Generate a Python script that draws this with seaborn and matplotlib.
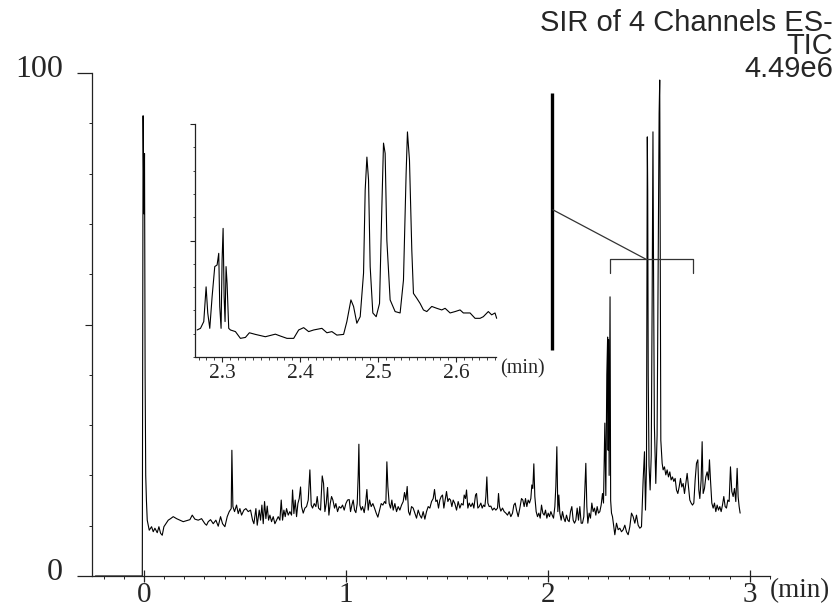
import matplotlib
matplotlib.use("Agg")
import matplotlib.pyplot as plt
import seaborn as sns
import pandas as pd
from matplotlib.ticker import MultipleLocator, FixedLocator, NullFormatter
from matplotlib.transforms import ScaledTranslation

# ---------------- data (time in min, intensity in %) ----------------
trace_injection = [(-0.240, 0), (-0.008, 0), (-0.004, 91.5), (0.000, 72), (0.003, 84),
                   (0.006, 40), (0.009, 20), (0.0125, 15)]

trace_early = [
    (0.0165, 11.1), (0.0264, 9.1), (0.0380, 9.8), (0.0462, 8.8), (0.0545, 9.5), (0.0660, 8.6),
    (0.0743, 9.8), (0.0825, 8.5), (0.0908, 8.1), (0.0990, 9.8), (0.1089, 10.4), (0.1205, 11.1),
    (0.1320, 11.4), (0.1452, 11.8), (0.1617, 11.4), (0.1782, 11.1), (0.1947, 10.8), (0.2112, 11.0),
    (0.2277, 11.2), (0.2393, 12.1), (0.2525, 11.3), (0.2690, 11.1), (0.2855, 11.4), (0.3020, 10.4),
    (0.3102, 10.1), (0.3185, 10.8), (0.3300, 11.2), (0.3432, 10.4), (0.3564, 11.1), (0.3680, 9.9),
    (0.3795, 11.8), (0.3894, 10.4), (0.4010, 9.8), (0.4125, 11.8), (0.4224, 12.8), (0.4323, 13.4),
    (0.4356, 25.0), (0.4406, 13.8), (0.4488, 12.8), (0.4587, 14.1), (0.4670, 12.4), (0.4752, 13.4),
    (0.4835, 12.1), (0.4950, 13.1), (0.5050, 13.4), (0.5165, 12.8), (0.5280, 13.1), (0.5380, 11.1),
    (0.5446, 10.4), (0.5545, 13.4), (0.5611, 10.1), (0.5710, 13.1), (0.5776, 11.1), (0.5842, 14.1),
    (0.5908, 10.4), (0.5974, 14.8), (0.6040, 11.4), (0.6106, 13.9), (0.6172, 11.1), (0.6238, 12.1),
    (0.6320, 10.8), (0.6403, 11.8), (0.6485, 10.4), (0.6568, 11.1), (0.6650, 11.8), (0.6733, 11.1),
    (0.6799, 15.1), (0.6865, 11.1), (0.6931, 13.1), (0.6997, 11.8), (0.7063, 13.4), (0.7145, 12.1),
    (0.7228, 12.8), (0.7310, 12.1), (0.7360, 17.1), (0.7426, 12.4), (0.7492, 15.1), (0.7558, 11.8),
    (0.7624, 14.4), (0.7690, 15.4), (0.7756, 17.7)]

trace_mid = [
    (0.7806, 13.8), (0.7888, 12.5), (0.7971, 13.5), (0.8053, 13.8), (0.8136, 15.1), (0.8218, 21.1),
    (0.8284, 14.1), (0.8350, 13.5), (0.8433, 14.4), (0.8515, 13.8), (0.8581, 15.8), (0.8647, 13.5),
    (0.8746, 13.1), (0.8829, 19.9), (0.8895, 18.4), (0.8961, 12.8), (0.9027, 14.4), (0.9093, 17.6),
    (0.9159, 12.1), (0.9225, 14.4), (0.9291, 15.8), (0.9357, 15.1), (0.9439, 13.5), (0.9505, 14.4),
    (0.9588, 12.8), (0.9670, 13.8), (0.9753, 13.5), (0.9835, 14.1), (0.9918, 13.1), (1.0000, 14.4),
    (1.0083, 15.1), (1.0165, 15.2), (1.0231, 12.8), (1.0297, 14.1), (1.0363, 15.1), (1.0429, 13.1),
    (1.0495, 12.6), (1.0561, 14.4), (1.0611, 20.1), (1.0644, 26.2), (1.0693, 14.1), (1.0759, 13.1),
    (1.0825, 13.8), (1.0908, 12.6), (1.0974, 14.4), (1.1040, 17.2), (1.1106, 13.1), (1.1172, 15.1),
    (1.1254, 13.8), (1.1337, 14.4), (1.1419, 13.5), (1.1502, 12.5), (1.1584, 11.7), (1.1667, 13.1),
    (1.1749, 14.4), (1.1832, 14.1), (1.1914, 14.8), (1.1980, 14.4), (1.2030, 22.7), (1.2079, 17.8),
    (1.2145, 14.4), (1.2211, 13.5), (1.2277, 15.1), (1.2343, 13.1), (1.2426, 14.4), (1.2508, 12.8),
    (1.2591, 13.8), (1.2673, 13.1), (1.2756, 14.1), (1.2838, 14.8), (1.2904, 16.6), (1.2970, 15.1),
    (1.3036, 17.8), (1.3102, 12.8), (1.3168, 12.1), (1.3251, 13.8), (1.3333, 13.5), (1.3416, 12.5),
    (1.3498, 11.5), (1.3581, 13.1), (1.3663, 12.1), (1.3746, 11.5), (1.3828, 12.8), (1.3911, 11.3),
    (1.3993, 12.8), (1.4076, 13.8), (1.4158, 13.5), (1.4241, 14.8), (1.4323, 15.4), (1.4389, 17.2),
    (1.4455, 14.8), (1.4521, 15.1), (1.4587, 13.5), (1.4653, 15.1), (1.4719, 15.8), (1.4785, 16.1),
    (1.4851, 13.5), (1.4917, 15.1), (1.4983, 16.8), (1.5050, 14.8), (1.5116, 15.4), (1.5182, 15.1),
    (1.5248, 13.8), (1.5314, 15.1), (1.5396, 14.4), (1.5479, 13.1), (1.5561, 14.8), (1.5644, 13.5),
    (1.5726, 14.4), (1.5809, 14.1)]

trace_late = [
    (1.5858, 16.1), (1.5924, 15.4), (1.5974, 17.1), (1.6040, 13.5), (1.6106, 14.5), (1.6188, 13.8),
    (1.6271, 14.5), (1.6337, 13.5), (1.6420, 16.1), (1.6469, 16.4), (1.6535, 13.5), (1.6601, 13.8),
    (1.6683, 14.5), (1.6749, 13.5), (1.6815, 14.1), (1.6881, 13.8), (1.6931, 15.8), (1.6980, 19.7),
    (1.7030, 14.5), (1.7096, 13.8), (1.7178, 13.9), (1.7261, 13.1), (1.7343, 13.5), (1.7426, 13.1),
    (1.7508, 13.5), (1.7558, 16.4), (1.7607, 13.8), (1.7673, 12.9), (1.7756, 13.5), (1.7838, 12.8),
    (1.7921, 12.5), (1.8003, 12.1), (1.8086, 12.8), (1.8168, 11.8), (1.8251, 12.5), (1.8317, 14.1),
    (1.8383, 14.5), (1.8449, 13.1), (1.8531, 11.8), (1.8614, 13.5), (1.8696, 15.4), (1.8762, 15.1),
    (1.8828, 13.8), (1.8894, 15.4), (1.8960, 13.8), (1.9026, 15.1), (1.9092, 14.5), (1.9158, 15.4),
    (1.9208, 18.1), (1.9257, 17.4), (1.9307, 22.3), (1.9356, 15.8), (1.9422, 12.8), (1.9488, 11.8),
    (1.9555, 12.5), (1.9621, 11.5), (1.9687, 14.1), (1.9753, 12.5), (1.9819, 12.1), (1.9885, 13.1),
    (1.9951, 11.5), (2.0017, 12.5), (2.0083, 11.8), (2.0149, 12.8), (2.0215, 12.1), (2.0281, 11.5),
    (2.0347, 13.8), (2.0396, 17.8), (2.0446, 25.7), (2.0495, 12.8), (2.0545, 16.1), (2.0594, 12.5),
    (2.0660, 11.1), (2.0726, 12.8), (2.0792, 11.5), (2.0858, 10.8), (2.0924, 12.1), (2.0990, 11.1),
    (2.1056, 10.8), (2.1122, 12.8), (2.1188, 13.8), (2.1254, 11.1), (2.1320, 10.5), (2.1386, 11.1),
    (2.1452, 13.5), (2.1518, 11.1), (2.1584, 13.8), (2.1650, 10.5), (2.1716, 10.5), (2.1782, 11.8),
    (2.1832, 17.1), (2.1881, 22.4), (2.1931, 13.8), (2.1980, 10.5), (2.2046, 12.5), (2.2112, 11.5),
    (2.2178, 14.5), (2.2244, 12.8), (2.2310, 13.5), (2.2376, 12.1), (2.2442, 13.8), (2.2508, 12.5),
    (2.2574, 12.8), (2.2640, 14.1), (2.2706, 16.4)]

trace_peaks = [
    (2.2756, 14.5), (2.2822, 30.4), (2.2871, 16.0), (2.2920, 40.0), (2.2960, 47.5), (2.2985, 25.0),
    (2.3005, 47.0), (2.3035, 20.0), (2.3080, 55.5), (2.3110, 15.0), (2.3152, 12.5), (2.3201, 11.8),
    (2.3267, 9.8), (2.3317, 8.2), (2.3399, 10.5), (2.3482, 9.2), (2.3564, 9.5), (2.3647, 8.8),
    (2.3729, 9.2), (2.3812, 10.1), (2.3894, 8.8), (2.3977, 8.2), (2.4059, 9.8), (2.4142, 12.5),
    (2.4224, 11.8), (2.4307, 10.5), (2.4389, 12.1), (2.4472, 10.1), (2.4554, 9.5), (2.4637, 9.8),
    (2.4719, 19.1), (2.4785, 24.7), (2.4835, 13.1), (2.4884, 21.7), (2.4905, 55.0), (2.4925, 87.3),
    (2.4945, 76.7), (2.4970, 40.0), (2.5010, 22.0), (2.5065, 17.1), (2.5120, 24.0), (2.5165, 55.0),
    (2.5205, 88.3), (2.5235, 60.0), (2.5275, 30.0), (2.5345, 18.4), (2.5410, 28.0), (2.5470, 65.0),
    (2.5510, 92.0), (2.5540, 98.6), (2.5565, 65.0), (2.5594, 27.0), (2.5660, 22.4)]

trace_tail = [
    (2.5709, 21.1), (2.5775, 21.7), (2.5841, 20.1), (2.5907, 21.1), (2.5973, 19.7), (2.6039, 20.7),
    (2.6105, 19.1), (2.6171, 19.7), (2.6237, 18.8), (2.6303, 19.4), (2.6370, 17.1), (2.6436, 16.4),
    (2.6502, 17.7), (2.6568, 19.4), (2.6634, 17.7), (2.6700, 18.4), (2.6766, 16.4), (2.6832, 18.4),
    (2.6898, 20.4), (2.6964, 17.7), (2.7030, 15.1), (2.7096, 14.5), (2.7162, 14.1), (2.7228, 14.5),
    (2.7294, 19.1), (2.7360, 22.4), (2.7426, 23.1), (2.7475, 17.1), (2.7525, 15.4), (2.7591, 19.1),
    (2.7640, 26.7), (2.7690, 16.4), (2.7756, 17.4), (2.7822, 19.7), (2.7888, 20.7), (2.7954, 19.1),
    (2.8003, 23.1), (2.8053, 19.1), (2.8119, 14.5), (2.8185, 13.5), (2.8251, 14.5), (2.8317, 12.8),
    (2.8383, 14.1), (2.8449, 13.1), (2.8515, 13.8), (2.8581, 12.8), (2.8647, 14.1), (2.8713, 15.8),
    (2.8779, 13.8), (2.8845, 13.5), (2.8911, 15.1), (2.8977, 14.8), (2.9043, 21.7), (2.9109, 16.8),
    (2.9175, 15.8), (2.9241, 17.4), (2.9307, 14.8), (2.9373, 21.4), (2.9422, 15.8), (2.9472, 13.8),
    (2.9521, 12.5)]

inset_trace = [
    (2.2681, 11.6), (2.2724, 12.3), (2.2766, 15.2), (2.2796, 30.1), (2.2817, 18.9), (2.2843, 12.3),
    (2.2873, 25.9), (2.2907, 38.8), (2.2937, 39.5), (2.2958, 44.5), (2.2971, 21.7), (2.2988, 12.3),
    (2.3001, 41.6), (2.3014, 55.2), (2.3027, 25.9), (2.3039, 15.2), (2.3052, 38.8), (2.3065, 31.6),
    (2.3086, 12.3), (2.3108, 11.6), (2.3172, 10.9), (2.3236, 8.0), (2.3300, 8.4), (2.3351, 10.4),
    (2.3428, 9.7), (2.3556, 8.7), (2.3684, 9.8), (2.3748, 9.0), (2.3833, 8.0), (2.3919, 8.0),
    (2.3983, 11.6), (2.4047, 12.6), (2.4111, 10.9), (2.4175, 11.6), (2.4281, 12.3), (2.4345, 10.4),
    (2.4409, 10.9), (2.4473, 9.4), (2.4559, 9.7), (2.4601, 15.2), (2.4653, 24.5), (2.4687, 21.7),
    (2.4729, 14.5), (2.4772, 17.3), (2.4815, 36.0), (2.4836, 71.7), (2.4858, 85.8), (2.4879, 76.0),
    (2.4900, 38.8), (2.4934, 18.9), (2.4977, 17.3), (2.5020, 23.0), (2.5050, 64.6), (2.5071, 91.8),
    (2.5092, 87.4), (2.5114, 50.0), (2.5156, 24.5), (2.5220, 19.5), (2.5284, 18.9), (2.5327, 33.0),
    (2.5361, 78.8), (2.5378, 96.6), (2.5404, 84.5), (2.5434, 45.7), (2.5455, 27.3), (2.5498, 25.2),
    (2.5540, 23.0), (2.5583, 20.2), (2.5626, 19.5), (2.5690, 21.7), (2.5754, 20.9), (2.5818, 20.2),
    (2.5861, 20.9), (2.5925, 18.9), (2.5989, 19.5), (2.6053, 20.2), (2.6095, 18.9), (2.6181, 18.9),
    (2.6245, 16.6), (2.6309, 16.6), (2.6351, 17.3), (2.6415, 19.5), (2.6458, 18.1), (2.6501, 18.9),
    (2.6522, 16.6)]

main_xticks = [0, 1, 2, 3]
main_xlabels = ["0", "1", "2", "3"]
main_yticks = [0, 100]
main_ylabels = ["0", "100"]
inset_xticks = [2.3, 2.4, 2.5, 2.6]
inset_xlabels = ["2.3", "2.4", "2.5", "2.6"]
header_lines = ["SIR of 4 Channels ES-", "TIC", "4.49e6"]
unit_label = "(min)"

# zoom annotation (bar, connector, bracket) in main-axis data units
zoom_bar_t = 2.023
zoom_bar_v = [44.9, 96.0]
connector_t = [2.025, 2.485]
connector_v = [72.8, 63.0]
bracket_t = [2.310, 2.310, 2.718, 2.718]
bracket_v = [60.2, 63.0, 63.0, 60.2]

# ---------------- figure ----------------
sns.set_style("ticks")
plt.rcParams['font.family'] = ['Liberation Serif', 'DejaVu Serif']

W, H = 837, 612
fig = plt.figure(figsize=(W / 100, H / 100), dpi=100)
fig.patch.set_facecolor('white')

main_df = pd.DataFrame(trace_injection + trace_early + trace_mid + trace_late + trace_peaks + trace_tail,
                       columns=["time", "intensity"])
inset_df = pd.DataFrame(inset_trace, columns=["time", "intensity"])

AXC = '#222222'

ax = fig.add_axes([92 / W, 1 - 576 / H, (770 - 92) / W, (576 - 73) / H])
ax.set_facecolor('none')
sns.lineplot(data=main_df, x="time", y="intensity", ax=ax, color='black', lw=0.8,
             estimator=None, sort=False)
for ln in ax.lines:
    ln.set_clip_on(False)
ax.set_xlim(-0.257, 3.10)
ax.set_ylim(0, 100)
ax.set_xlabel("")
ax.set_ylabel("")
for s in ["top", "right"]:
    ax.spines[s].set_visible(False)
for s in ["left", "bottom"]:
    ax.spines[s].set_linewidth(0.9)
    ax.spines[s].set_color(AXC)

ax.xaxis.set_major_locator(FixedLocator(main_xticks))
ax.set_xticklabels(main_xlabels)
ax.xaxis.set_minor_locator(MultipleLocator(0.1))
ax.tick_params(axis='x', which='major', direction='inout', length=8, width=0.9,
               labelsize=21, pad=0.5, color=AXC, bottom=True)
ax.tick_params(axis='x', which='minor', direction='out', length=2.5, width=0.7, color=AXC, bottom=True)

ax.yaxis.set_major_locator(FixedLocator(main_yticks))
ax.set_yticklabels(main_ylabels)
ax.yaxis.set_minor_locator(MultipleLocator(10))
ax.tick_params(axis='y', which='major', direction='out', length=11, width=0.9,
               labelsize=23, pad=10, color=AXC, left=True)
ax.tick_params(axis='y', which='minor', direction='out', length=2.5, width=0.7, color=AXC, left=True)
for lab in ax.get_yticklabels():
    lab.set_transform(lab.get_transform() + ScaledTranslation(0, 0.07, fig.dpi_scale_trans))

sec = ax.secondary_yaxis('left')
sec.set_yticks([50])
sec.set_yticklabels([])
sec.tick_params(length=5, width=0.8, color=AXC, left=True)
sec.spines['left'].set_visible(False)

# zoom annotation
ax.plot([zoom_bar_t, zoom_bar_t], zoom_bar_v, color='black', lw=2.4, solid_capstyle='butt')
ax.plot(connector_t, connector_v, color='#333333', lw=0.9)
ax.plot(bracket_t, bracket_v, color='#333333', lw=0.9)

fig.text(770 / W, 1 - 591 / H, unit_label, ha='left', va='center', fontsize=19.5)

# header (one multi-line text, right aligned, tight line spacing)
fig.text(833 / W, 1 - 9 / H, "\n".join(header_lines), ha='right', va='top',
         multialignment='right', linespacing=0.77,
         fontsize=21, family=['Liberation Sans', 'DejaVu Sans'])

# ---------------- inset ----------------
axin = fig.add_axes([195.5 / W, 1 - 357 / H, 301 / W, 233 / H])
axin.set_facecolor('none')
sns.lineplot(data=inset_df, x="time", y="intensity", ax=axin, color='black', lw=0.8,
             estimator=None, sort=False)
for ln in axin.lines:
    ln.set_clip_on(False)
axin.set_xlim(2.266, 2.652)
axin.set_ylim(0, 100)
axin.set_xlabel("")
axin.set_ylabel("")
for s in ["top", "right"]:
    axin.spines[s].set_visible(False)
for s in ["left", "bottom"]:
    axin.spines[s].set_linewidth(0.9)
    axin.spines[s].set_color(AXC)
axin.xaxis.set_major_locator(FixedLocator(inset_xticks))
axin.set_xticklabels(inset_xlabels)
axin.xaxis.set_minor_locator(MultipleLocator(0.01))
axin.tick_params(axis='x', which='major', direction='out', length=3.5, width=0.8,
                 labelsize=15.5, pad=1.5, color=AXC, bottom=True)
axin.tick_params(axis='x', which='minor', direction='out', length=1.8, width=0.6, color=AXC, bottom=True)
axin.yaxis.set_major_locator(FixedLocator([50, 100]))
axin.yaxis.set_major_formatter(NullFormatter())
axin.yaxis.set_minor_locator(MultipleLocator(10))
axin.tick_params(axis='y', which='major', direction='out', length=3.5, width=0.8, color=AXC, left=True)
axin.tick_params(axis='y', which='minor', direction='out', length=1.8, width=0.6, color=AXC, left=True)
axin.text(1.012, -0.052, unit_label, transform=axin.transAxes, ha='left', va='center', fontsize=14.5)

fig.savefig("out.png", dpi=100, facecolor='white')
